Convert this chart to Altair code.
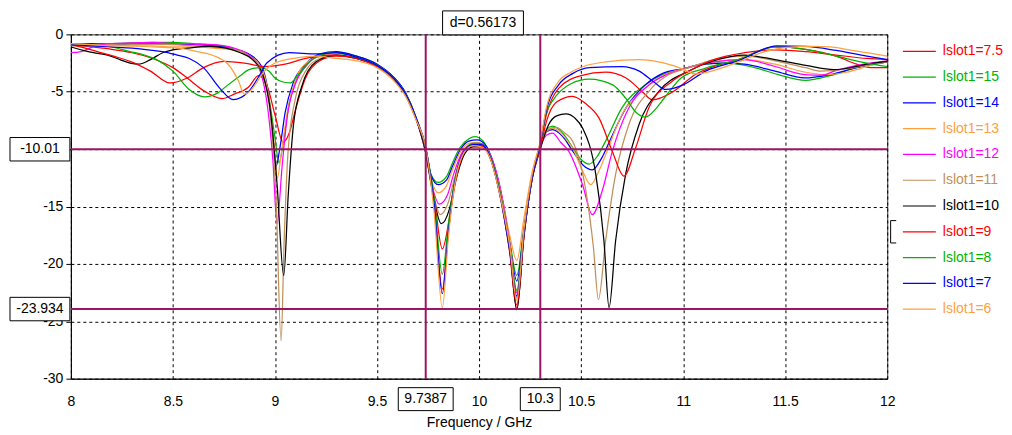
import altair as alt
import pandas as pd

# ---------------- data ----------------
X_TICKS = [8, 8.5, 9, 9.5, 10, 10.5, 11, 11.5, 12]
Y_TICKS = [0, -5, -10, -15, -20, -25, -30]

LABELS = ["lslot1=7.5", "lslot1=15", "lslot1=14", "lslot1=13", "lslot1=12", "lslot1=11",
          "lslot1=10", "lslot1=9", "lslot1=8", "lslot1=7", "lslot1=6"]
COLORS = ["#FF0000", "#00B400", "#0000FF", "#FFA040", "#FF00FF", "#C0905A",
          "#000000", "#FF0000", "#00B400", "#0000FF", "#FFA040"]

# (frequency GHz, S11 dB)
S11_7_5 = [(8.0, -0.9), (8.1, -1.1), (8.2, -1.3), (8.3, -1.6), (8.4, -2.1), (8.5, -2.9), (8.57, -3.8),
           (8.65, -4.9), (8.74, -5.6), (8.8, -5.2), (8.87, -4.6), (8.92, -3.6), (8.96, -4.4), (9.0, -7.0),
           (9.04, -9.4), (9.07, -8.6), (9.1, -6.6), (9.15, -3.8), (9.22, -2.3), (9.3, -1.9), (9.4, -2.1),
           (9.5, -2.8), (9.58, -3.9), (9.64, -5.3), (9.69, -7.3), (9.74, -10.0), (9.78, -14.8), (9.82, -22.2),
           (9.85, -17.0), (9.875, -13.4), (9.93, -10.1), (9.97, -9.6), (10.01, -9.7), (10.05, -10.6),
           (10.1, -13.8), (10.15, -19.0), (10.185, -23.9), (10.22, -17.6), (10.26, -12.6), (10.3, -9.6),
           (10.33, -7.0), (10.39, -4.7), (10.5, -3.6), (10.62, -3.3), (10.72, -3.8), (10.8, -5.0),
           (10.85, -5.7), (10.95, -5.0), (11.06, -3.5), (11.15, -2.8), (11.27, -2.2), (11.45, -1.1),
           (11.6, -1.3), (11.75, -1.9), (11.85, -2.6), (11.92, -2.9), (12.0, -2.9)]
S11_15 = [(8.0, -0.9), (8.1, -0.85), (8.2, -0.8), (8.3, -0.75), (8.4, -0.7), (8.5, -0.7), (8.6, -0.8),
          (8.7, -0.9), (8.8, -1.3), (8.88, -1.9), (8.94, -3.2), (8.975, -6.0), (9.0, -9.0), (9.02, -11.2),
          (9.04, -9.5), (9.07, -6.0), (9.11, -3.8), (9.16, -2.5), (9.22, -1.8), (9.3, -1.6), (9.4, -1.9),
          (9.5, -2.6), (9.58, -3.7), (9.64, -5.1), (9.69, -7.2), (9.735, -10.0), (9.765, -12.2), (9.8, -12.9),
          (9.84, -12.4), (9.87, -11.2), (9.905, -9.9), (9.95, -9.1), (9.98, -8.9), (10.02, -9.3),
          (10.06, -10.8), (10.1, -13.4), (10.15, -18.0), (10.185, -21.0), (10.22, -16.8), (10.26, -12.3),
          (10.3, -9.6), (10.33, -8.3), (10.36, -8.0), (10.41, -8.6), (10.46, -9.9), (10.5, -10.9),
          (10.54, -11.3), (10.58, -10.6), (10.62, -9.3), (10.7, -6.4), (10.815, -4.4), (10.9, -3.5),
          (11.0, -3.0), (11.1, -2.6), (11.22, -2.5), (11.35, -2.9), (11.465, -3.5), (11.6, -4.0),
          (11.72, -3.6), (11.85, -2.9), (12.0, -2.4)]
S11_14 = [(8.0, -0.8), (8.1, -0.8), (8.2, -0.9), (8.3, -0.85), (8.4, -0.8), (8.5, -0.85), (8.6, -0.9),
          (8.7, -1.0), (8.8, -1.3), (8.88, -1.8), (8.94, -3.0), (8.97, -5.5), (8.99, -9.0), (9.005, -11.5),
          (9.025, -9.8), (9.05, -6.8), (9.09, -4.2), (9.15, -2.6), (9.22, -1.7), (9.3, -1.5), (9.4, -1.9),
          (9.5, -2.6), (9.58, -3.7), (9.64, -5.1), (9.69, -7.2), (9.735, -10.0), (9.765, -12.3), (9.8, -13.1),
          (9.84, -12.7), (9.87, -11.5), (9.91, -10.0), (9.95, -9.3), (9.99, -9.2), (10.03, -9.6),
          (10.07, -11.2), (10.11, -14.0), (10.15, -18.2), (10.185, -21.5), (10.22, -17.0), (10.26, -12.4),
          (10.3, -9.7), (10.33, -8.5), (10.36, -8.3), (10.41, -8.9), (10.46, -10.2), (10.51, -11.4),
          (10.555, -11.8), (10.6, -10.8), (10.64, -9.3), (10.72, -6.4), (10.815, -4.4), (10.9, -3.4),
          (11.0, -3.0), (11.1, -2.6), (11.2, -2.5), (11.3, -2.6), (11.45, -3.2), (11.595, -3.8),
          (11.72, -3.5), (11.85, -2.9), (12.0, -2.4)]
S11_13 = [(8.0, -0.8), (8.1, -0.9), (8.2, -0.9), (8.3, -1.0), (8.4, -1.0), (8.5, -1.1), (8.6, -1.1),
          (8.7, -1.2), (8.8, -1.4), (8.88, -1.9), (8.94, -3.2), (8.97, -5.5), (8.995, -9.5), (9.012, -12.5),
          (9.03, -10.5), (9.06, -6.8), (9.1, -4.0), (9.16, -2.4), (9.23, -1.9), (9.3, -1.8), (9.4, -2.1),
          (9.5, -2.7), (9.58, -3.8), (9.64, -5.2), (9.69, -7.2), (9.735, -10.0), (9.765, -12.6), (9.8, -13.8),
          (9.84, -13.2), (9.87, -11.8), (9.91, -10.2), (9.95, -9.5), (9.99, -9.4), (10.03, -9.8),
          (10.07, -11.4), (10.11, -14.0), (10.15, -17.5), (10.185, -19.7), (10.22, -16.0), (10.26, -12.0),
          (10.3, -9.6), (10.33, -8.4), (10.36, -8.15), (10.41, -8.8), (10.458, -9.9), (10.5, -11.6),
          (10.547, -13.1), (10.585, -12.0), (10.62, -10.5), (10.7, -7.0), (10.815, -4.7), (10.9, -3.6),
          (11.0, -3.0), (11.15, -2.4), (11.3, -2.2), (11.45, -2.6), (11.6, -3.3), (11.7, -3.5),
          (11.8, -3.3), (11.9, -2.8), (12.0, -2.3)]
S11_12 = [(8.0, -1.6), (8.05, -1.5), (8.12, -1.0), (8.2, -0.8), (8.3, -0.75), (8.4, -0.7), (8.5, -0.8),
          (8.6, -0.85), (8.7, -0.9), (8.8, -1.2), (8.88, -1.9), (8.93, -3.3), (8.965, -6.5), (8.99, -11.0),
          (9.01, -16.5), (9.035, -11.5), (9.06, -7.2), (9.1, -4.3), (9.15, -2.8), (9.22, -1.9), (9.3, -1.8),
          (9.4, -2.1), (9.5, -2.7), (9.58, -3.8), (9.64, -5.2), (9.69, -7.3), (9.735, -10.0), (9.77, -13.2),
          (9.805, -14.8), (9.845, -14.0), (9.875, -12.2), (9.92, -10.2), (9.96, -9.6), (10.0, -9.5),
          (10.04, -10.0), (10.08, -11.7), (10.12, -14.8), (10.155, -18.8), (10.185, -22.5), (10.22, -17.2),
          (10.26, -12.5), (10.3, -9.8), (10.33, -8.8), (10.36, -8.6), (10.4, -9.4), (10.44, -10.2),
          (10.507, -13.1), (10.555, -15.7), (10.604, -13.6), (10.653, -10.2), (10.734, -6.4),
          (10.832, -4.4), (10.92, -3.5), (11.0, -3.0), (11.15, -2.4), (11.3, -2.2), (11.45, -2.8),
          (11.595, -3.5), (11.68, -3.55), (11.74, -3.2), (11.85, -2.7), (12.0, -2.3)]
S11_11 = [(8.0, -1.0), (8.1, -1.0), (8.2, -0.95), (8.3, -0.9), (8.4, -0.85), (8.5, -0.9), (8.6, -1.0),
          (8.7, -1.1), (8.8, -1.3), (8.88, -2.0), (8.94, -3.6), (8.98, -7.5), (9.005, -14.0), (9.03, -26.7),
          (9.045, -18.0), (9.065, -10.0), (9.1, -5.6), (9.15, -3.2), (9.22, -2.1), (9.3, -1.8), (9.4, -2.1),
          (9.5, -2.8), (9.58, -3.9), (9.64, -5.3), (9.69, -7.3), (9.735, -10.0), (9.775, -13.8),
          (9.81, -15.7), (9.85, -14.6), (9.88, -12.5), (9.925, -10.3), (9.965, -9.7), (10.005, -9.7),
          (10.045, -10.3), (10.09, -12.6), (10.13, -16.0), (10.16, -19.5), (10.185, -23.0), (10.22, -17.4),
          (10.26, -12.6), (10.3, -9.8), (10.34, -8.3), (10.377, -8.1), (10.42, -8.6), (10.458, -9.3),
          (10.523, -13.6), (10.56, -18.5), (10.585, -23.1), (10.62, -18.0), (10.669, -12.2),
          (10.734, -7.85), (10.832, -4.96), (10.93, -3.5), (11.03, -2.9), (11.15, -2.2), (11.3, -1.9),
          (11.45, -2.3), (11.6, -2.9), (11.675, -3.2), (11.8, -3.0), (11.9, -2.7), (12.0, -2.4)]
S11_10 = [(8.0, -1.1), (8.06, -1.4), (8.11, -1.6), (8.18, -1.8), (8.24, -2.2), (8.29, -2.5), (8.33, -2.6),
          (8.39, -2.2), (8.45, -1.6), (8.5, -1.35), (8.57, -1.2), (8.68, -1.05), (8.76, -1.2), (8.83, -1.6),
          (8.89, -2.2), (8.94, -3.5), (8.98, -7.0), (9.01, -13.0), (9.043, -21.0), (9.065, -14.0),
          (9.09, -8.0), (9.13, -4.6), (9.2, -2.4), (9.3, -1.8), (9.4, -2.1), (9.5, -2.8), (9.58, -3.9),
          (9.64, -5.3), (9.69, -7.3), (9.735, -10.0), (9.775, -14.0), (9.815, -16.5), (9.855, -15.2),
          (9.885, -12.8), (9.93, -10.4), (9.97, -9.8), (10.01, -9.8), (10.05, -10.5), (10.1, -13.6),
          (10.15, -18.6), (10.185, -24.0), (10.22, -17.6), (10.26, -12.6), (10.3, -10.0), (10.34, -7.9),
          (10.38, -7.1), (10.426, -6.93), (10.47, -7.3), (10.507, -8.15), (10.572, -12.2), (10.612, -18.0),
          (10.637, -23.8), (10.669, -18.0), (10.718, -12.2), (10.784, -7.85), (10.881, -4.96),
          (11.027, -3.2), (11.15, -2.3), (11.3, -1.8), (11.45, -2.2), (11.6, -2.7), (11.74, -3.07),
          (11.82, -2.9), (11.9, -2.6), (12.0, -2.35)]
S11_9 = [(8.0, -0.9), (8.07, -1.2), (8.13, -1.5), (8.21, -1.9), (8.29, -2.35), (8.39, -3.2), (8.486, -4.23),
         (8.57, -3.8), (8.65, -2.9), (8.75, -2.35), (8.85, -2.5), (8.95, -2.8), (9.05, -2.6), (9.15, -2.1),
         (9.25, -1.8), (9.35, -1.9), (9.45, -2.4), (9.5, -2.8), (9.58, -3.9), (9.64, -5.3), (9.69, -7.3),
         (9.74, -10.0), (9.78, -14.2), (9.82, -18.7), (9.855, -16.0), (9.885, -12.8), (9.93, -10.2),
         (9.97, -9.6), (10.01, -9.7), (10.05, -10.5), (10.1, -13.7), (10.15, -18.8), (10.185, -23.6),
         (10.22, -17.5), (10.26, -12.6), (10.3, -9.9), (10.33, -7.6), (10.38, -5.9), (10.458, -5.4),
         (10.52, -6.0), (10.588, -7.3), (10.653, -10.2), (10.71, -12.35), (10.767, -9.9), (10.832, -6.4),
         (10.945, -4.1), (11.05, -3.0), (11.15, -2.2), (11.3, -1.6), (11.45, -1.35), (11.6, -1.5),
         (11.75, -1.8), (11.9, -2.1), (12.0, -2.2)]
S11_8 = [(8.0, -0.8), (8.1, -0.9), (8.2, -1.1), (8.29, -1.5), (8.36, -1.8), (8.42, -2.2), (8.5, -3.2),
         (8.58, -4.8), (8.655, -5.45), (8.72, -5.1), (8.77, -4.4), (8.83, -3.6), (8.87, -3.1), (8.93, -2.9),
         (8.97, -3.2), (9.0, -3.8), (9.04, -4.15), (9.075, -4.23), (9.115, -3.5), (9.19, -2.1), (9.28, -1.6),
         (9.4, -2.0), (9.5, -2.7), (9.58, -3.8), (9.64, -5.2), (9.69, -7.2), (9.74, -10.0), (9.78, -14.3),
         (9.82, -20.9), (9.85, -16.5), (9.88, -12.8), (9.93, -10.1), (9.97, -9.5), (10.01, -9.5),
         (10.05, -10.4), (10.1, -13.6), (10.15, -18.6), (10.185, -22.3), (10.22, -17.2), (10.26, -12.4),
         (10.3, -9.5), (10.33, -6.8), (10.36, -5.8), (10.45, -4.3), (10.54, -3.9), (10.655, -4.4),
         (10.72, -5.6), (10.77, -6.8), (10.815, -7.2), (10.87, -6.4), (10.91, -5.5), (10.99, -3.8),
         (11.1, -3.0), (11.27, -2.2), (11.45, -1.1), (11.6, -1.3), (11.75, -1.9), (11.9, -2.5), (12.0, -2.8)]
S11_7 = [(8.0, -0.9), (8.1, -1.0), (8.2, -1.1), (8.3, -1.2), (8.38, -1.35), (8.45, -1.5), (8.52, -1.8),
         (8.58, -2.1), (8.65, -2.9), (8.73, -4.7), (8.795, -5.68), (8.87, -5.0), (8.93, -3.4), (8.96, -2.5),
         (9.07, -1.6), (9.2, -1.7), (9.3, -1.6), (9.4, -2.0), (9.5, -2.7), (9.58, -3.8), (9.64, -5.2),
         (9.69, -7.2), (9.74, -10.0), (9.78, -14.8), (9.82, -22.6), (9.85, -17.2), (9.88, -13.0),
         (9.93, -10.1), (9.97, -9.6), (10.01, -9.6), (10.05, -10.5), (10.1, -13.8), (10.15, -18.8),
         (10.185, -22.8), (10.22, -17.3), (10.26, -12.5), (10.3, -9.5), (10.33, -6.6), (10.39, -4.4),
         (10.46, -3.4), (10.54, -2.9), (10.7, -2.8), (10.785, -3.2), (10.86, -4.2), (10.915, -4.8),
         (11.0, -4.4), (11.11, -3.2), (11.27, -2.3), (11.46, -1.0), (11.6, -1.05), (11.75, -1.4),
         (11.9, -1.9), (12.0, -2.2)]
S11_6 = [(8.0, -0.8), (8.1, -0.9), (8.2, -1.0), (8.3, -1.0), (8.4, -1.1), (8.53, -1.2), (8.62, -1.5),
         (8.69, -1.8), (8.77, -2.6), (8.82, -4.0), (8.85, -5.2), (8.88, -4.9), (8.91, -4.2), (8.94, -3.4),
         (9.0, -2.5), (9.1, -2.06), (9.2, -1.9), (9.3, -2.1), (9.4, -2.3), (9.5, -2.9), (9.58, -4.0),
         (9.64, -5.4), (9.69, -7.4), (9.74, -10.0), (9.78, -15.5), (9.82, -23.8), (9.85, -17.6),
         (9.88, -13.2), (9.93, -10.2), (9.97, -9.7), (10.01, -9.8), (10.05, -10.6), (10.1, -13.8),
         (10.15, -18.4), (10.185, -23.2), (10.22, -17.0), (10.26, -12.2), (10.3, -9.3), (10.33, -6.4),
         (10.39, -4.1), (10.45, -3.3), (10.51, -2.8), (10.62, -2.4), (10.785, -2.2), (10.88, -2.4),
         (10.98, -2.9), (11.06, -3.45), (11.16, -3.1), (11.27, -2.4), (11.4, -1.5), (11.5, -1.15),
         (11.63, -1.04), (11.72, -1.1), (11.8, -1.3), (11.9, -1.6), (12.0, -1.9)]

CURVES = [S11_7_5, S11_15, S11_14, S11_13, S11_12, S11_11, S11_10, S11_9, S11_8, S11_7, S11_6]

MARKER_X = [9.7387, 10.3]
MARKER_X_TEXT = ["9.7387", "10.3"]
MARKER_Y = [-10.01, -23.934]
MARKER_Y_TEXT = ["-10.01", "-23.934"]
DELTA_TEXT = "d=0.56173"
SELECTED = "lslot1=9"

# ---------------- styling ----------------
W, H = 818, 345
FONT = "Liberation Sans"
MARK_COLOR = "#9C1464"


def box_path(w, h):
    r = h / w
    return f"M-1,-{r:.4f}L1,-{r:.4f}L1,{r:.4f}L-1,{r:.4f}Z"


x_scale = alt.Scale(domain=[8, 12], nice=False, zero=False)
y_scale = alt.Scale(domain=[-30, 0], nice=False, zero=False)

X_AXIS = alt.Axis(values=X_TICKS, labelExpr="datum.value + ''", title="Frequency / GHz",
                  grid=True, gridColor="black", gridDash=[3, 3], gridOpacity=1, gridWidth=1,
                  ticks=False, labelPadding=16, titlePadding=7, domainColor="black",
                  labelFlush=False)
# the -10 tick label sits under the "-10.01" marker box in the reference
Y_AXIS = alt.Axis(values=Y_TICKS, labelExpr="datum.value == -10 ? '' : datum.value + ''", title=None,
                  grid=True, gridColor="black", gridDash=[3, 3], gridOpacity=1, gridWidth=1,
                  ticks=True, tickSize=5, tickColor="black", labelPadding=3,
                  domainColor="black", labelFlush=False)

X_ENC = alt.X("f:Q", scale=x_scale, axis=X_AXIS)
Y_ENC = alt.Y("db:Q", scale=y_scale, axis=Y_AXIS)

layers = []
for pts, col in zip(CURVES, COLORS):
    df = pd.DataFrame(pts, columns=["f", "db"])
    layers.append(alt.Chart(df).mark_line(color=col, strokeWidth=1.25, interpolate="monotone",
                                          clip=True).encode(x=X_ENC, y=Y_ENC))

mx = pd.DataFrame({"f": MARKER_X, "t": MARKER_X_TEXT})
my = pd.DataFrame({"db": MARKER_Y, "t": MARKER_Y_TEXT})
md = pd.DataFrame({"f": [sum(MARKER_X) / 2], "t": [DELTA_TEXT]})

layers.append(alt.Chart(my).mark_rule(color=MARK_COLOR, strokeWidth=2).encode(y=Y_ENC))
layers.append(alt.Chart(mx).mark_rule(color=MARK_COLOR, strokeWidth=2).encode(x=X_ENC))

text_kw = dict(font=FONT, fontSize=14, color="black", align="center", baseline="middle")
box_kw = dict(filled=True, fill="white", stroke="black", strokeWidth=1, opacity=1)

# y-marker boxes (left of axis)
layers.append(alt.Chart(my).mark_point(shape=box_path(60, 23.5), size=60 ** 2, **box_kw)
              .encode(x=alt.value(-31), y=Y_ENC))
layers.append(alt.Chart(my).mark_text(**text_kw).encode(x=alt.value(-31), y=Y_ENC, text="t:N"))

# x-marker boxes (below axis)
for val, txt, bw in [(MARKER_X[0], MARKER_X_TEXT[0], 55), (MARKER_X[1], MARKER_X_TEXT[1], 40)]:
    d = pd.DataFrame({"f": [val], "t": [txt]})
    layers.append(alt.Chart(d).mark_point(shape=box_path(bw, 23), size=bw ** 2, **box_kw)
                  .encode(x=X_ENC, y=alt.value(H + 20.5)))
    layers.append(alt.Chart(d).mark_text(**text_kw).encode(x=X_ENC, y=alt.value(H + 20.5), text="t:N"))

# delta box (top)
layers.append(alt.Chart(md).mark_point(shape=box_path(81, 24), size=81 ** 2, **box_kw)
              .encode(x=X_ENC, y=alt.value(-11.5)))
layers.append(alt.Chart(md).mark_text(**text_kw).encode(x=X_ENC, y=alt.value(-11.5), text="t:N"))

main = alt.layer(*layers)

# ---------------- manual legend ----------------
leg_df = pd.DataFrame({"label": LABELS})
leg_y = alt.Y("label:N", sort=LABELS,
              scale=alt.Scale(type="point", domain=LABELS, range=[17, 275.3], padding=0), axis=None)
leg_c = alt.Color("label:N", scale=alt.Scale(domain=LABELS, range=COLORS), legend=None)

leg_rules = alt.Chart(leg_df).mark_rule(strokeWidth=1.2).encode(
    x=alt.value(833.7), x2=alt.value(866.7), y=leg_y, color=leg_c)
leg_text = alt.Chart(leg_df).mark_text(align="left", baseline="middle", font=FONT, fontSize=14).encode(
    x=alt.value(873.7), y=leg_y, text="label:N", color=leg_c)
bracket = alt.Chart(pd.DataFrame({"label": [SELECTED]})).mark_point(
    shape="M0.25,-1L-0.25,-1L-0.25,1L0.25,1", size=502, filled=False, stroke="black",
    strokeWidth=1, opacity=1).encode(x=alt.value(824.2), y=leg_y)

legend = alt.layer(leg_rules, leg_text, bracket)

chart = (
    alt.layer(main, legend)
    .resolve_scale(y="independent", color="independent")
    .properties(width=W, height=H, padding=0)
    .configure_view(stroke="#333333", strokeWidth=1)
    .configure_axis(labelFont=FONT, labelFontSize=14, labelColor="black", titleFont=FONT,
                    titleFontSize=14, titleFontWeight="normal", titleColor="black")
)

chart.save("out.html", embed_options={"renderer": "svg", "actions": False})
